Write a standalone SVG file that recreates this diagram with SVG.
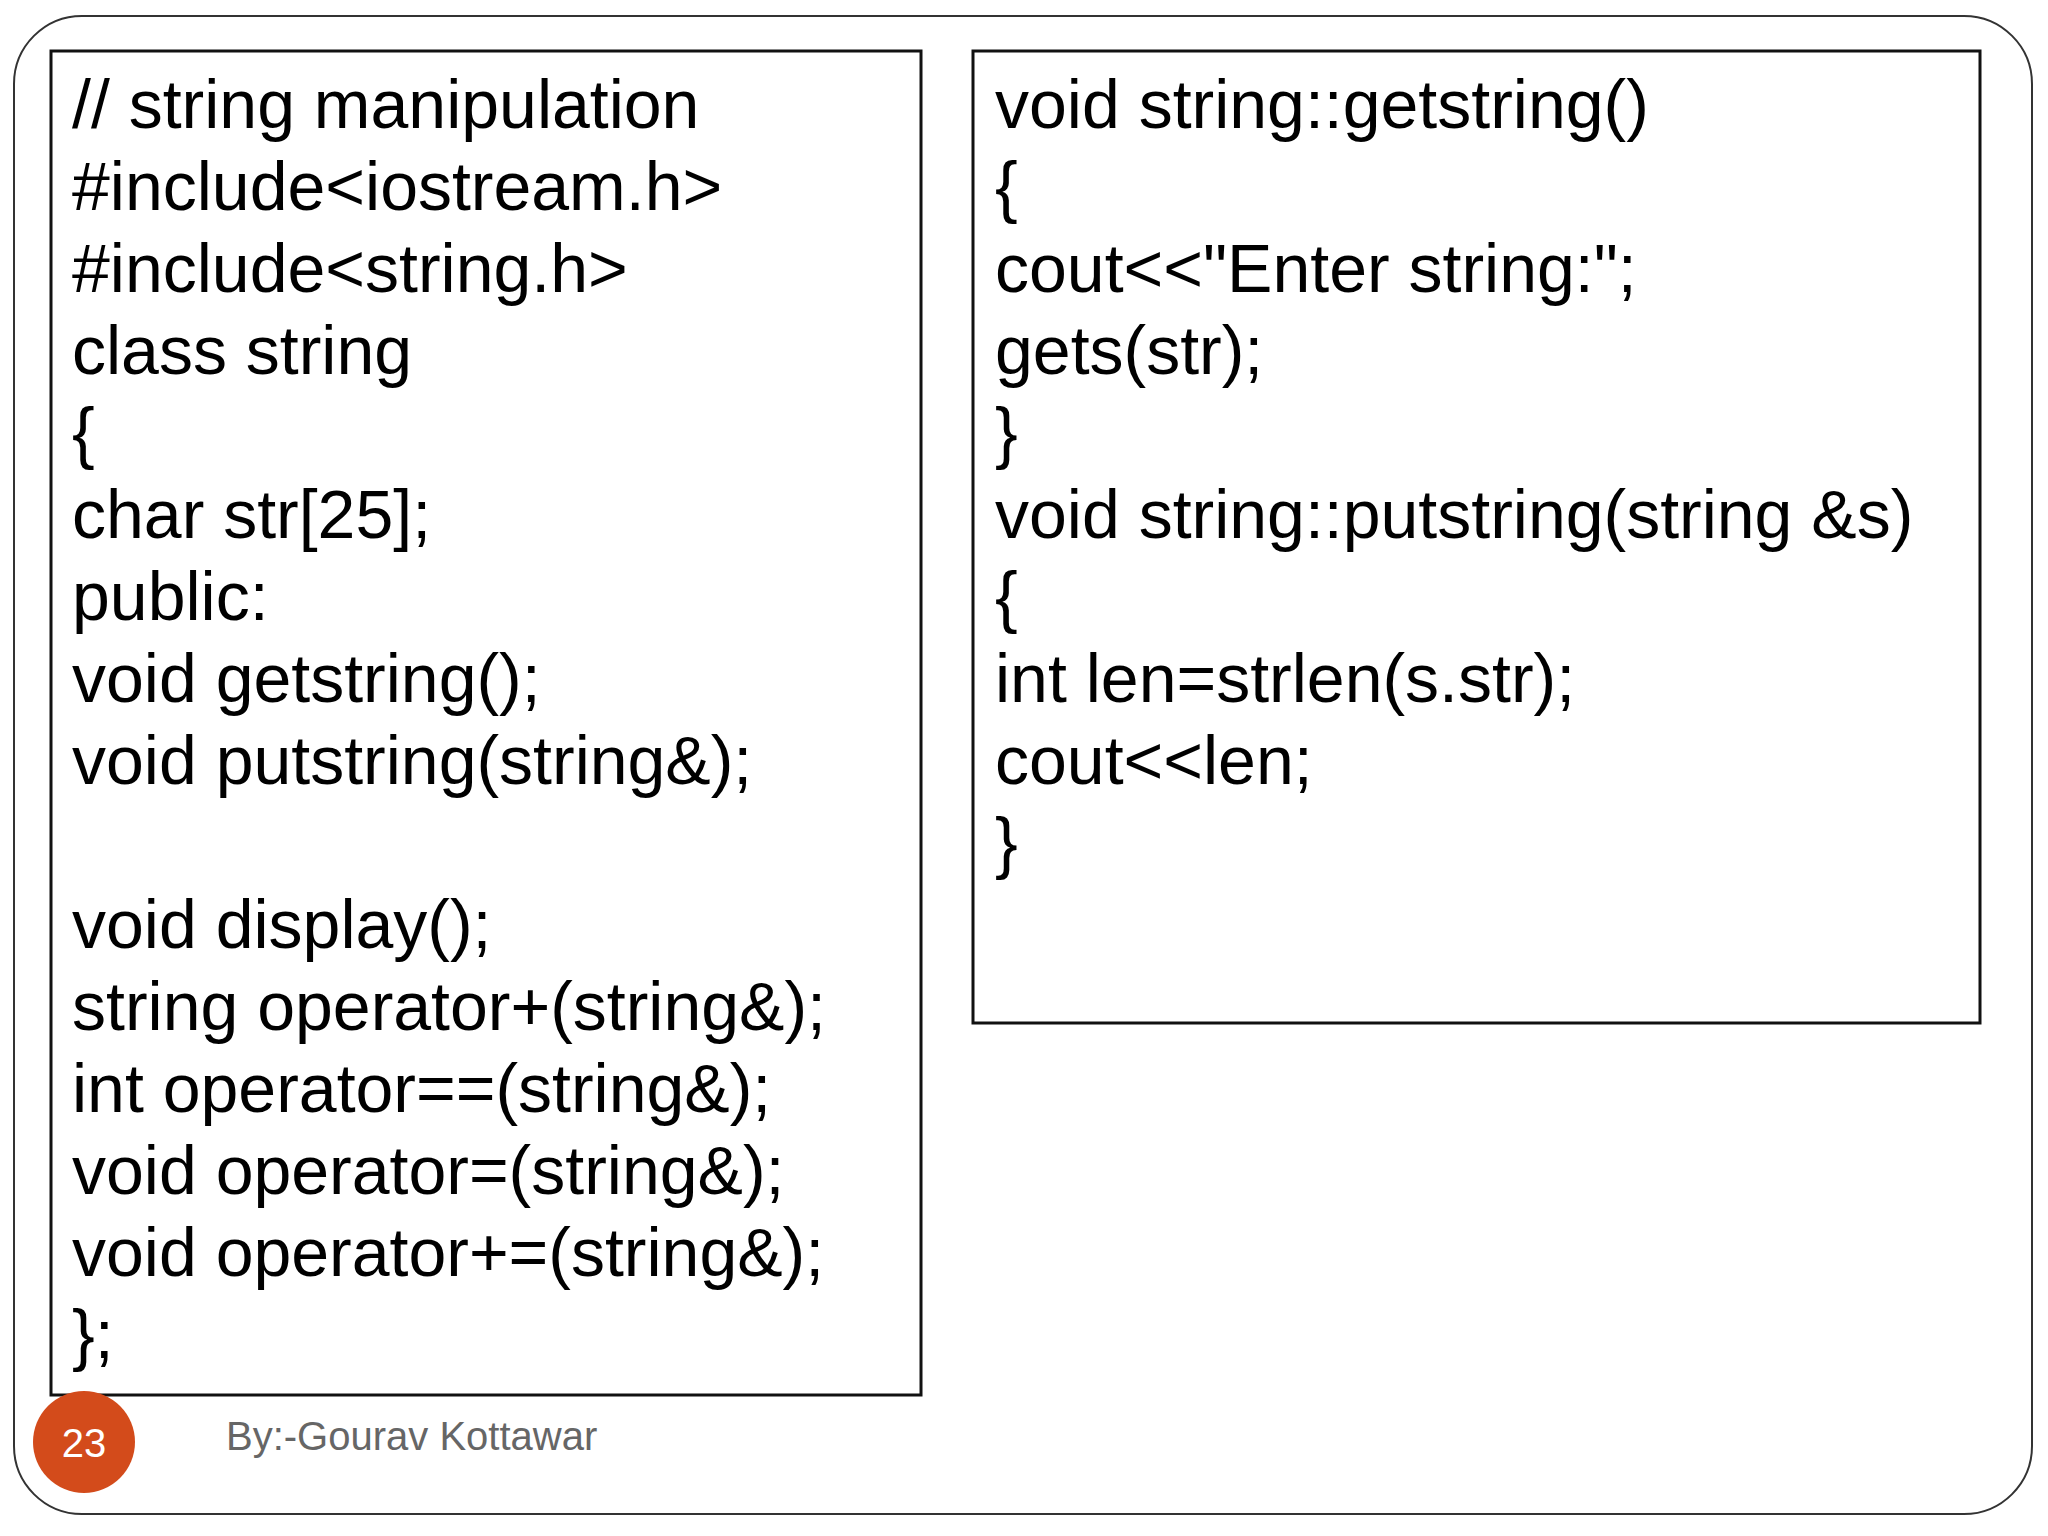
<svg xmlns="http://www.w3.org/2000/svg" width="2048" height="1536" viewBox="0 0 2048 1536">
  <style>
    .frame { fill: #ffffff; stroke: #333333; stroke-width: 2; }
    .box { fill: #ffffff; stroke: #111111; stroke-width: 3; }
    .code { font-family: "Liberation Sans", Arial, sans-serif; font-size: 68px; fill: #000000; }
    .foot { font-family: "Liberation Sans", Arial, sans-serif; font-size: 40px; fill: #666666; }
    .num { font-family: "Liberation Sans", Arial, sans-serif; font-size: 40px; fill: #ffffff; text-anchor: middle; }
  </style>
  <rect width="2048" height="1536" fill="#ffffff"/>
  <g id="slide-frame">
    <rect class="frame" x="14" y="16" width="2018" height="1498" rx="68" ry="68"/>
  </g>
  <g id="class-declaration">
    <rect class="box" x="51" y="51" width="870" height="1344"/>
    <text class="code" x="72" y="128">// string manipulation</text>
    <text class="code" x="72" y="210">#include&lt;iostream.h&gt;</text>
    <text class="code" x="72" y="292">#include&lt;string.h&gt;</text>
    <text class="code" x="72" y="374">class string</text>
    <text class="code" x="72" y="456">{</text>
    <text class="code" x="72" y="538">char str[25];</text>
    <text class="code" x="72" y="620">public:</text>
    <text class="code" x="72" y="702">void getstring();</text>
    <text class="code" x="72" y="784">void putstring(string&amp;);</text>
    <text class="code" x="72" y="948">void display();</text>
    <text class="code" x="72" y="1030">string operator+(string&amp;);</text>
    <text class="code" x="72" y="1112">int operator==(string&amp;);</text>
    <text class="code" x="72" y="1194">void operator=(string&amp;);</text>
    <text class="code" x="72" y="1276">void operator+=(string&amp;);</text>
    <text class="code" x="72" y="1358">};</text>
  </g>
  <g id="member-definitions">
    <rect class="box" x="973" y="51" width="1007" height="972"/>
    <text class="code" x="995" y="128">void string::getstring()</text>
    <text class="code" x="995" y="210">{</text>
    <text class="code" x="995" y="292">cout&lt;&lt;"Enter string:";</text>
    <text class="code" x="995" y="374">gets(str);</text>
    <text class="code" x="995" y="456">}</text>
    <text class="code" x="995" y="538">void string::putstring(string &amp;s)</text>
    <text class="code" x="995" y="620">{</text>
    <text class="code" x="995" y="702">int len=strlen(s.str);</text>
    <text class="code" x="995" y="784">cout&lt;&lt;len;</text>
    <text class="code" x="995" y="866">}</text>
  </g>
  <g id="footer">
    <circle cx="84" cy="1442" r="51" fill="#D34B1B"/>
    <text class="num" x="84" y="1457">23</text>
    <text class="foot" x="226" y="1450">By:-Gourav Kottawar</text>
  </g>
</svg>
